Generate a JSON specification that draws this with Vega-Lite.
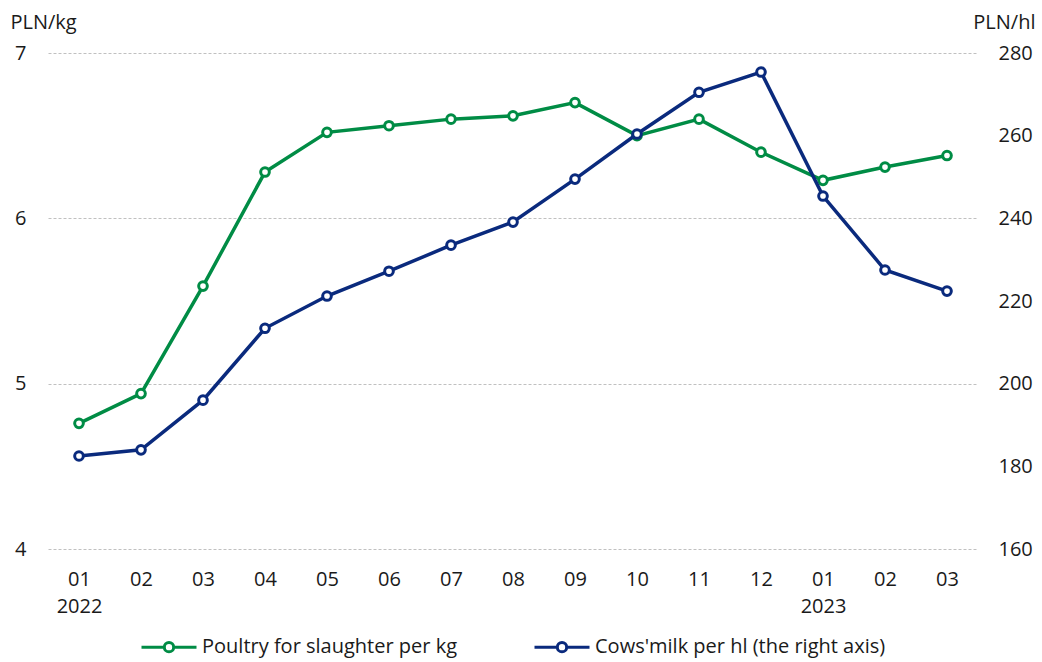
{
  "$schema": "https://vega.github.io/schema/vega-lite/v6.json",
  "autosize": {"type": "none"},
  "width": 930,
  "height": 496,
  "padding": {"left": 48, "top": 53, "right": 64, "bottom": 113},
  "background": "white",
  "config": {
    "font": "Open Sans",
    "view": {"stroke": null},
    "axis": {"labelFont": "Open Sans", "labelFontSize": 20, "labelColor": "#1a1a1a", "titleFont": "Open Sans", "titleFontSize": 20, "titleFontWeight": "normal", "titleColor": "#1a1a1a", "domain": false, "ticks": false}
  },
  "data": {
    "values": [
      {"m": "2022-01", "poultry": 4.76, "milk": 182.5},
      {"m": "2022-02", "poultry": 4.94, "milk": 184.0},
      {"m": "2022-03", "poultry": 5.59, "milk": 196.0},
      {"m": "2022-04", "poultry": 6.28, "milk": 213.4},
      {"m": "2022-05", "poultry": 6.52, "milk": 221.2},
      {"m": "2022-06", "poultry": 6.56, "milk": 227.2},
      {"m": "2022-07", "poultry": 6.60, "milk": 233.5},
      {"m": "2022-08", "poultry": 6.62, "milk": 239.1},
      {"m": "2022-09", "poultry": 6.70, "milk": 249.5},
      {"m": "2022-10", "poultry": 6.50, "milk": 260.4},
      {"m": "2022-11", "poultry": 6.60, "milk": 270.5},
      {"m": "2022-12", "poultry": 6.40, "milk": 275.4},
      {"m": "2023-01", "poultry": 6.23, "milk": 245.4},
      {"m": "2023-02", "poultry": 6.31, "milk": 227.5},
      {"m": "2023-03", "poultry": 6.38, "milk": 222.4}
    ]
  },
  "encoding": {
    "x": {
      "field": "m", "type": "ordinal", "sort": null,
      "scale": {"type": "point", "padding": 0.5},
      "axis": {
        "title": null, "labelAngle": 0, "labelPadding": 20, "labelBaseline": "top", "labelLineHeight": 27,
        "labelExpr": "slice(datum.value,5) == '01' ? [slice(datum.value,5), slice(datum.value,0,4)] : slice(datum.value,5)"
      }
    }
  },
  "layer": [
    {
      "mark": {"type": "line", "strokeWidth": 3.5, "point": {"filled": false, "fill": "white", "size": 75, "strokeWidth": 3}},
      "encoding": {
        "y": {
          "field": "poultry", "type": "quantitative",
          "scale": {"domain": [4, 7], "nice": false, "zero": false},
          "axis": {
            "orient": "left", "values": [4, 5, 6, 7], "labelPadding": 22,
            "grid": true, "gridColor": "#c0c0c0", "gridDash": [3, 2], "gridWidth": 1,
            "title": "PLN/kg", "titleAngle": 0, "titleAlign": "left", "titleBaseline": "alphabetic", "titleX": -38, "titleY": -25
          }
        },
        "color": {
          "datum": "Poultry for slaughter per kg",
          "scale": {"domain": ["Poultry for slaughter per kg", "Cows'milk per hl (the right axis)"], "range": ["#008C45", "#0A2A7D"]},
          "legend": {
            "orient": "none", "direction": "horizontal", "legendX": 92, "legendY": 565, "title": null,
            "labelFont": "Open Sans", "labelFontSize": 20, "labelColor": "#1a1a1a", "labelLimit": 500,
            "symbolSize": 3025, "labelOffset": 4, "columnPadding": 70,
            "encode": {
              "symbols": {
                "update": {
                  "shape": {"value": "M-1,0L-0.2,0M0.2,0L1,0M0.17,0A0.17,0.17 0 1,1 -0.17,0A0.17,0.17 0 1,1 0.17,0"},
                  "size": {"value": 3025},
                  "strokeWidth": {"value": 3},
                  "fill": {"value": "white"}
                }
              }
            }
          }
        }
      }
    },
    {
      "mark": {"type": "line", "strokeWidth": 3.5, "point": {"filled": false, "fill": "white", "size": 75, "strokeWidth": 3}},
      "encoding": {
        "y": {
          "field": "milk", "type": "quantitative",
          "scale": {"domain": [160, 280], "nice": false, "zero": false},
          "axis": {
            "orient": "right", "values": [160, 180, 200, 220, 240, 260, 280], "labelPadding": 20, "grid": false,
            "title": "PLN/hl", "titleAngle": 0, "titleAlign": "right", "titleBaseline": "alphabetic", "titleX": 57, "titleY": -25
          }
        },
        "color": {"datum": "Cows'milk per hl (the right axis)"}
      }
    }
  ],
  "resolve": {"scale": {"y": "independent"}}
}
